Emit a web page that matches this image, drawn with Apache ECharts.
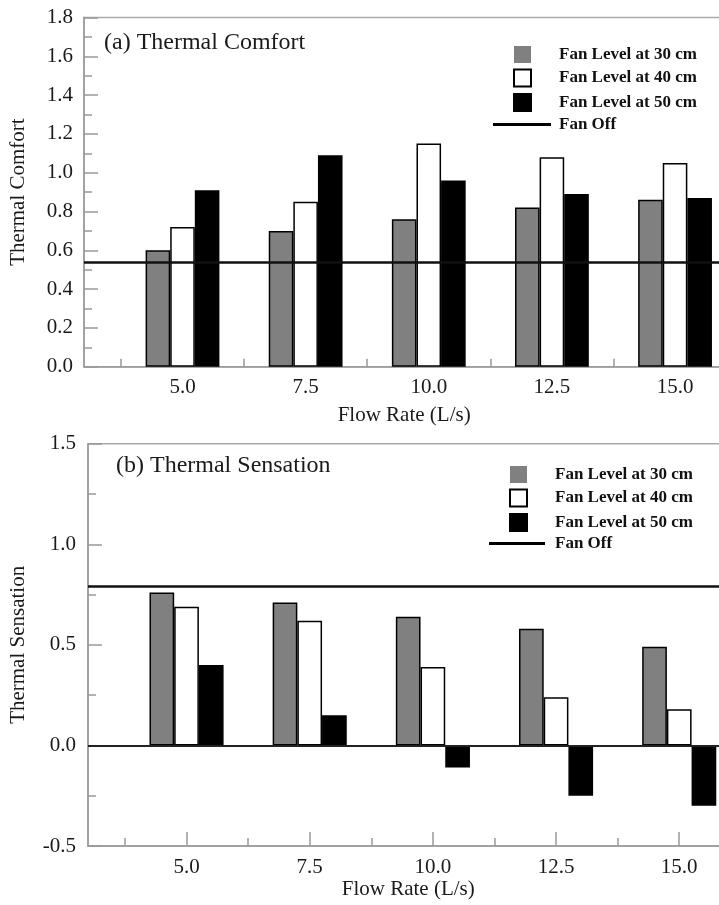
<!DOCTYPE html>
<html><head><meta charset="utf-8">
<script src="https://cdn.jsdelivr.net/npm/echarts@6/dist/echarts.min.js"></script>
<style>html,body{margin:0;padding:0;overflow:hidden;background:#fff;width:719px;height:905px}#c{width:760px;height:905px}</style>
</head><body><div id="c"></div>
<script>
const flowRates = [5.0, 7.5, 10.0, 12.5, 15.0];
const comfort30 = [0.60, 0.70, 0.76, 0.82, 0.86];
const comfort40 = [0.72, 0.85, 1.15, 1.08, 1.05];
const comfort50 = [0.91, 1.09, 0.96, 0.89, 0.87];
const comfortFanOff = 0.54;
const sensation30 = [0.76, 0.71, 0.64, 0.58, 0.49];
const sensation40 = [0.69, 0.62, 0.39, 0.24, 0.18];
const sensation50 = [0.40, 0.15, -0.11, -0.25, -0.30];
const sensationFanOff = 0.79;
const xMajorTicks = [5.0, 7.5, 10.0, 12.5, 15.0];
const xMinorTicks = [3.75, 6.25, 8.75, 11.25, 13.75];
const seriesNames = ['Fan Level at 30 cm', 'Fan Level at 40 cm', 'Fan Level at 50 cm'];
const fanOffName = 'Fan Off';
const barColors = ['#808080', '#ffffff', '#000000'];

const FONT = "'Liberation Serif', 'Times New Roman', serif";
const AX = '#999';
const TXT = '#1a1a1a';

function barSeries(vals, k, gi, bw) {
  return {
    type: 'bar', name: seriesNames[k], xAxisIndex: gi * 2, yAxisIndex: gi,
    data: flowRates.map((x, i) => [x, vals[i]]),
    barWidth: bw, barGap: '0%', silent: true,
    itemStyle: { color: barColors[k], borderColor: '#000', borderWidth: 1.5 }
  };
}
function fanOffSeries(gi, v, extra) {
  const d = [{ yAxis: v }];
  if (extra) d.push(extra);
  return {
    type: 'line', name: fanOffName, xAxisIndex: gi * 2, yAxisIndex: gi, data: [],
    symbol: 'none', showSymbol: false, lineStyle: { color: '#000', width: 2.5 }, itemStyle: { color: '#000' },
    markLine: { silent: true, symbol: 'none', label: { show: false }, animation: false,
      lineStyle: { color: '#111', width: 2.5, type: 'solid' }, data: d }
  };
}
function xAxes(gi, nameGap, margin) {
  return [{
    gridIndex: gi, type: 'value', min: 3, max: 16, position: 'bottom',
    axisLine: { onZero: false, lineStyle: { color: AX, width: 1.5 } },
    axisTick: { inside: true, length: 14, customValues: xMajorTicks, lineStyle: { color: AX, width: 1.5 } },
    axisLabel: { customValues: xMajorTicks, formatter: v => v.toFixed(1), fontFamily: FONT, fontSize: 21, color: TXT, margin: margin },
    splitLine: { show: false },
    name: 'Flow Rate (L/s)', nameLocation: 'middle', nameGap: nameGap,
    nameTextStyle: { fontFamily: FONT, fontSize: 21, color: TXT }
  }, {
    gridIndex: gi, type: 'value', min: 3, max: 16, position: 'bottom',
    axisLine: { show: false, onZero: false },
    axisTick: { inside: true, length: 8, customValues: xMinorTicks, lineStyle: { color: AX, width: 1.5 } },
    axisLabel: { show: false }, splitLine: { show: false }
  }];
}
function yAxis(gi, min, max, interval, name, nameGap, margin) {
  return {
    gridIndex: gi, type: 'value', min: min, max: max, interval: interval,
    axisLine: { show: true, onZero: false, lineStyle: { color: AX, width: 1.5 } },
    axisTick: { show: true, inside: true, length: 14, lineStyle: { color: AX, width: 1.5 } },
    minorTick: { show: true, splitNumber: 2, length: 8, lineStyle: { color: AX, width: 1.5 } },
    axisLabel: { formatter: v => v.toFixed(1), fontFamily: FONT, fontSize: 21, color: TXT, margin: margin },
    splitLine: { show: false }, minorSplitLine: { show: false },
    name: name, nameLocation: 'middle', nameGap: nameGap,
    nameTextStyle: { fontFamily: FONT, fontSize: 21, color: TXT }
  };
}
const legendText = { fontFamily: FONT, fontWeight: 'bold', fontSize: 17, color: '#111' };
function barLegend(left, top, pad) {
  return {
    orient: 'vertical', left: left, top: top, itemWidth: 17, itemHeight: 17, itemGap: 5.5,
    selectedMode: false, padding: 0, icon: 'rect',
    data: [
      { name: seriesNames[0], icon: 'rect', itemStyle: { borderWidth: 0 } },
      { name: seriesNames[1], icon: 'rect', itemStyle: { borderWidth: 2 } },
      { name: seriesNames[2], icon: 'rect' }
    ],
    textStyle: Object.assign({ padding: [0, 0, 0, pad] }, legendText)
  };
}
function lineLegend(left, top, w, pad) {
  return {
    orient: 'vertical', left: left, top: top, itemWidth: w, itemHeight: 3,
    selectedMode: false, padding: 0,
    data: [{ name: fanOffName, icon: 'rect', itemStyle: { color: '#000', borderWidth: 0 } }],
    textStyle: Object.assign({ padding: [0, 0, 0, pad] }, legendText)
  };
}

const chart = echarts.init(document.getElementById('c'));
chart.setOption({
  animation: false,
  backgroundColor: '#fff',
  title: [
    { text: '(a) Thermal Comfort', left: 104, top: 31, padding: 0,
      textStyle: { fontFamily: FONT, fontWeight: 'normal', fontSize: 24, color: TXT } },
    { text: '(b) Thermal Sensation', left: 116, top: 454, padding: 0,
      textStyle: { fontFamily: FONT, fontWeight: 'normal', fontSize: 24, color: TXT } }
  ],
  legend: [
    barLegend(513, 46, 23),
    lineLegend(493, 116, 58, 3),
    barLegend(509, 466, 23),
    lineLegend(489, 535, 56, 5)
  ],
  grid: [
    { left: 83.3, top: 17.5, width: 641, height: 349.2, show: true, borderColor: '#aaa', borderWidth: 1.5, containLabel: false },
    { left: 86.5, top: 443.7, width: 642, height: 402.3, show: true, borderColor: '#aaa', borderWidth: 1.5, containLabel: false }
  ],
  xAxis: [].concat(xAxes(0, 38, 10), xAxes(1, 33, 11)),
  yAxis: [
    yAxis(0, 0, 1.8, 0.2, 'Thermal Comfort', 55, 11),
    yAxis(1, -0.5, 1.5, 0.5, 'Thermal Sensation', 59, 12)
  ],
  series: [
    barSeries(comfort30, 0, 0, 24.6),
    barSeries(comfort40, 1, 0, 24.6),
    barSeries(comfort50, 2, 0, 24.6),
    fanOffSeries(0, comfortFanOff),
    barSeries(sensation30, 0, 1, 24.7),
    barSeries(sensation40, 1, 1, 24.7),
    barSeries(sensation50, 2, 1, 24.7),
    fanOffSeries(1, sensationFanOff, { yAxis: 0, lineStyle: { color: '#222', width: 2 } })
  ]
});
</script></body></html>
